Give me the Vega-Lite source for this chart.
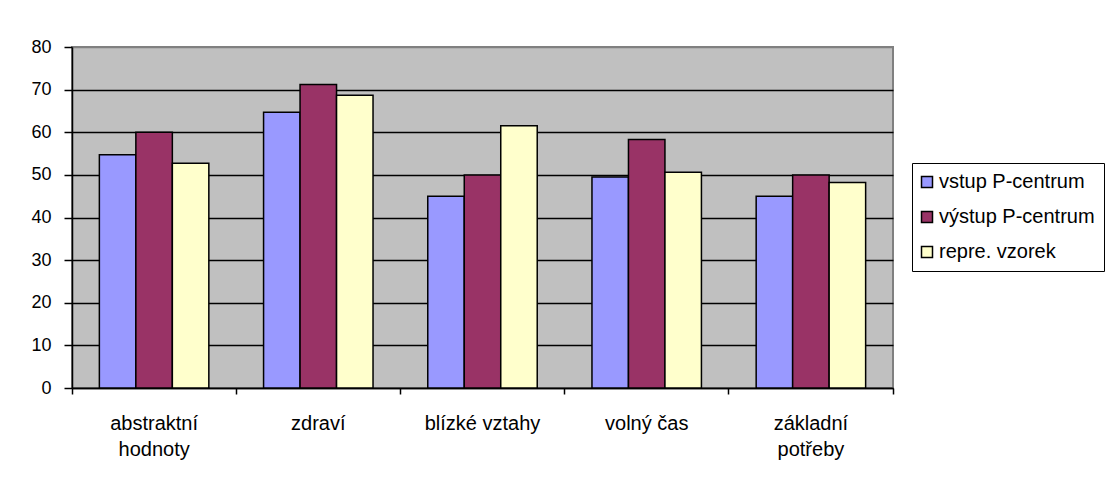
{
  "$schema": "https://vega.github.io/schema/vega-lite/v6.json",
  "width": 821,
  "height": 341,
  "autosize": {"type": "none"},
  "padding": {"left": 72, "top": 47, "right": 219, "bottom": 93},
  "background": "white",
  "data": {
    "values": [
      {"kategorie": "abstraktní hodnoty", "skupina": "vstup P-centrum", "hodnota": 54.7},
      {"kategorie": "abstraktní hodnoty", "skupina": "výstup P-centrum", "hodnota": 60.0},
      {"kategorie": "abstraktní hodnoty", "skupina": "repre. vzorek", "hodnota": 52.7},
      {"kategorie": "zdraví", "skupina": "vstup P-centrum", "hodnota": 64.7},
      {"kategorie": "zdraví", "skupina": "výstup P-centrum", "hodnota": 71.2},
      {"kategorie": "zdraví", "skupina": "repre. vzorek", "hodnota": 68.7},
      {"kategorie": "blízké vztahy", "skupina": "vstup P-centrum", "hodnota": 45.0},
      {"kategorie": "blízké vztahy", "skupina": "výstup P-centrum", "hodnota": 50.0},
      {"kategorie": "blízké vztahy", "skupina": "repre. vzorek", "hodnota": 61.5},
      {"kategorie": "volný čas", "skupina": "vstup P-centrum", "hodnota": 49.5},
      {"kategorie": "volný čas", "skupina": "výstup P-centrum", "hodnota": 58.3},
      {"kategorie": "volný čas", "skupina": "repre. vzorek", "hodnota": 50.6},
      {"kategorie": "základní potřeby", "skupina": "vstup P-centrum", "hodnota": 45.0},
      {"kategorie": "základní potřeby", "skupina": "výstup P-centrum", "hodnota": 50.0},
      {"kategorie": "základní potřeby", "skupina": "repre. vzorek", "hodnota": 48.2}
    ]
  },
  "mark": {"type": "bar", "stroke": "black", "strokeWidth": 1.5},
  "encoding": {
    "x": {
      "field": "kategorie",
      "type": "nominal",
      "sort": null,
      "scale": {"paddingInner": 0, "paddingOuter": 0},
      "axis": {
        "title": null,
        "labelAngle": 0,
        "bandPosition": 1,
        "tickExtra": true,
        "tickSize": 6,
        "tickColor": "black",
        "tickWidth": 1.5,
        "domainColor": "black",
        "domainWidth": 1.5,
        "labelFont": "Liberation Sans",
        "labelFontSize": 20,
        "labelColor": "black",
        "labelPadding": 19,
        "labelLineHeight": 26,
        "labelBaseline": "top",
        "labelExpr": "datum.label == 'blízké vztahy' || datum.label == 'volný čas' ? datum.label : split(datum.label, ' ')",
        "grid": false
      }
    },
    "xOffset": {
      "field": "skupina",
      "type": "nominal",
      "sort": ["vstup P-centrum", "výstup P-centrum", "repre. vzorek"],
      "scale": {"paddingInner": 0, "paddingOuter": 0.75}
    },
    "y": {
      "field": "hodnota",
      "type": "quantitative",
      "scale": {"domain": [0, 80], "nice": false},
      "axis": {
        "title": null,
        "values": [0, 10, 20, 30, 40, 50, 60, 70, 80],
        "tickSize": 8,
        "tickColor": "black",
        "tickWidth": 1.5,
        "domainColor": "black",
        "domainWidth": 1.5,
        "labelFont": "Liberation Sans",
        "labelFontSize": 18,
        "labelColor": "black",
        "labelPadding": 13,
        "grid": true,
        "gridColor": {"condition": {"test": "datum.value == 80", "value": "#808080"}, "value": "black"},
        "gridWidth": 1.5,
        "gridOpacity": 1
      }
    },
    "color": {
      "field": "skupina",
      "type": "nominal",
      "sort": ["vstup P-centrum", "výstup P-centrum", "repre. vzorek"],
      "scale": {
        "domain": ["vstup P-centrum", "výstup P-centrum", "repre. vzorek"],
        "range": ["#9999FF", "#993366", "#FFFFCC"]
      },
      "legend": {
        "title": null,
        "orient": "none",
        "legendX": 840,
        "legendY": 116,
        "padding": 9,
        "strokeColor": "black",
        "fillColor": "white",
        "symbolType": "square",
        "symbolSize": 121,
        "symbolOffset": -4,
        "symbolStrokeColor": "black",
        "symbolStrokeWidth": 1.5,
        "symbolOpacity": 1,
        "labelFont": "Liberation Sans",
        "labelFontSize": 20,
        "labelColor": "black",
        "labelOffset": 2,
        "labelLimit": 300,
        "rowPadding": 15
      }
    }
  },
  "config": {
    "view": {"fill": "#C0C0C0", "stroke": "#808080", "strokeWidth": 2}
  }
}
